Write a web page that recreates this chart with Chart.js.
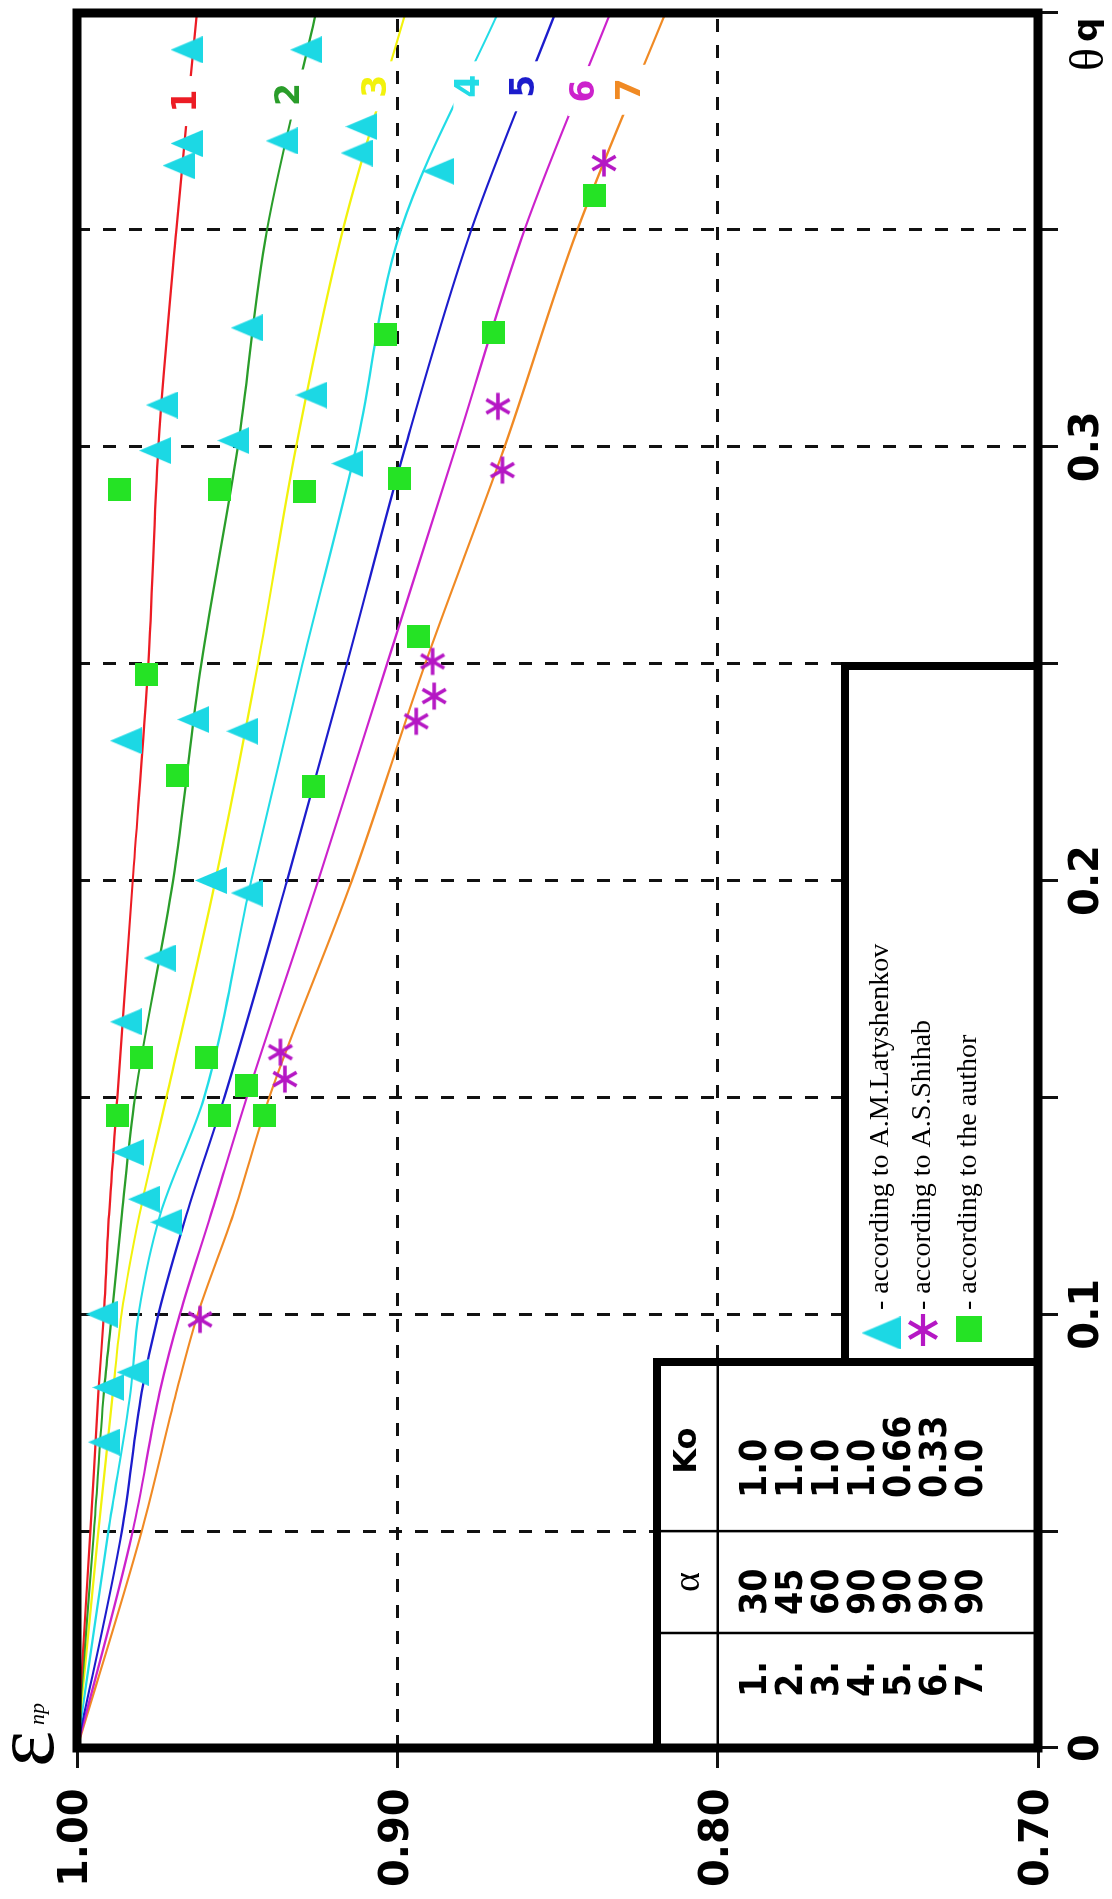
<!DOCTYPE html>
<html>
<head>
<meta charset="utf-8">
<title>Coefficient ε_np versus θq</title>
<script src="https://cdn.jsdelivr.net/npm/chart.js@4.4.1/dist/chart.umd.min.js"></script>
<style>
  html, body { margin: 0; padding: 0; background: #fff; }
  body { width: 1112px; height: 1899px; overflow: hidden; position: relative; }
  /* the plot is laid out landscape and turned a quarter turn anticlockwise */
  #turn { position: absolute; left: 0; top: 0; width: 1899px; height: 1112px;
          transform-origin: 0 0; transform: translateY(1899px) rotate(-90deg); background: #fff; }
  canvas { display: block; }
</style>
</head>
<body>
<div id="turn"><canvas id="chart" width="1899" height="1112"></canvas></div>
<script>
// ---- computed curves: θq nodes and ε_np for each case ----
const thetaNodes = [0, 0.05, 0.082, 0.1, 0.123, 0.15, 0.2, 0.25, 0.3, 0.35, 0.4];
const eps1 = [1.000, 0.9958, 0.9933, 0.9916, 0.9900, 0.9874, 0.9826, 0.9777, 0.9746, 0.9690, 0.9626];
const eps2 = [1.000, 0.9947, 0.9916, 0.9891, 0.9860, 0.9819, 0.9700, 0.9612, 0.9498, 0.9407, 0.9254];
const eps3 = [1.000, 0.9933, 0.9888, 0.9861, 0.9805, 0.9721, 0.9568, 0.9435, 0.9316, 0.9170, 0.8975];
const eps4 = [1.000, 0.9902, 0.9833, 0.9808, 0.9740, 0.9603, 0.9456, 0.9296, 0.9128, 0.8989, 0.8686];
const eps5 = [1.000, 0.9860, 0.9798, 0.9746, 0.9658, 0.9540, 0.9344, 0.9157, 0.8975, 0.8769, 0.8507];
const eps6 = [1.000, 0.9826, 0.9742, 0.9679, 0.9582, 0.9470, 0.9247, 0.9032, 0.8817, 0.8603, 0.8335];
const eps7 = [1.000, 0.9798, 0.9690, 0.9623, 0.9512, 0.9400, 0.9142, 0.8913, 0.8665, 0.8438, 0.8163];
const curveNames = ['1', '2', '3', '4', '5', '6', '7'];
const curveColors = ['#ec1c24', '#2a9d2a', '#f2f20c', '#22dce6', '#1c1ccc', '#cc22cc', '#f08a24'];
// where each curve number sits along its curve
const curveLabelTheta = [0.3797, 0.3812, 0.3831, 0.3831, 0.3831, 0.3820, 0.3823];
const curveLabelEps   = [0.9658, 0.9337, 0.9065, 0.8775, 0.8603, 0.8417, 0.8273];

// ---- case table ----
const caseIds  = ['1.', '2.', '3.', '4.', '5.', '6.', '7.'];
const alphaDeg = ['30', '45', '60', '90', '90', '90', '90'];
const koValues = ['1.0', '1.0', '1.0', '1.0', '0.66', '0.33', '0.0'];

// ---- experimental points ----
const latTheta = [0.3915, 0.3915, 0.3699, 0.3648, 0.3705, 0.3738, 0.3677, 0.3635, 0.3274, 0.3096,
                  0.2991, 0.3014, 0.3119, 0.2961, 0.2322, 0.2371, 0.2344, 0.2000, 0.1971, 0.1821,
                  0.1674, 0.1373, 0.1265, 0.1212, 0.1000, 0.0866, 0.0831, 0.0705];
const latEps   = [0.9658, 0.9285, 0.9658, 0.9683, 0.9361, 0.9112, 0.9127, 0.8872, 0.9470, 0.9735,
                  0.9756, 0.9512, 0.9268, 0.9156, 0.9847, 0.9637, 0.9484, 0.9582, 0.9470, 0.9742,
                  0.9847, 0.9840, 0.9791, 0.9721, 0.9923, 0.9826, 0.9902, 0.9916];
const shihabTheta = [0.3654, 0.3093, 0.2946, 0.2505, 0.2425, 0.2367, 0.1604, 0.1542, 0.0988];
const shihabEps   = [0.8355, 0.8686, 0.8672, 0.8890, 0.8885, 0.8941, 0.9365, 0.9351, 0.9616];
const authorTheta = [0.3579, 0.3259, 0.3263, 0.2901, 0.2901, 0.2897, 0.2927, 0.2562, 0.2475,
                     0.2242, 0.2216, 0.1592, 0.1592, 0.1527, 0.1458, 0.1458, 0.1458];
const authorEps   = [0.8383, 0.9038, 0.8700, 0.9868, 0.9554, 0.9289, 0.8993, 0.8934, 0.9784,
                     0.9686, 0.9261, 0.9798, 0.9596, 0.9470, 0.9874, 0.9554, 0.9414];
const legendTexts = ['- according to A.M.Latyshenkov', '- according to A.S.Shihab', '- according to the author'];

// ---- axis ticks ----
const xTickValues = [0, 0.1, 0.2, 0.3];
const xTickLabels = ['0', '0.1', '0.2', '0.3'];
const yTickValues = [1.0, 0.9, 0.8, 0.7];
const yTickLabels = ['1.00', '0.90', '0.80', '0.70'];

// ---- marker images ----
const TRI_COLOR = '#1cd8e4', STAR_COLOR = '#b517c4', SQ_COLOR = '#25e325';
function makeMark(w, h, paint) {
  const c = document.createElement('canvas');
  c.width = w; c.height = h;
  paint(c.getContext('2d'), w, h);
  return c;
}
const paintTriangle = (g, w, h) => {
  g.fillStyle = TRI_COLOR;
  g.beginPath(); g.moveTo(w / 2, 0); g.lineTo(w, h); g.lineTo(0, h); g.closePath(); g.fill();
};
const paintStar = (r, lw) => (g, w, h) => {
  g.strokeStyle = STAR_COLOR; g.lineWidth = lw;
  [0, 60, 120].forEach(a => {
    const t = a * Math.PI / 180;
    g.beginPath();
    g.moveTo(w / 2 - r * Math.cos(t), h / 2 - r * Math.sin(t));
    g.lineTo(w / 2 + r * Math.cos(t), h / 2 + r * Math.sin(t));
    g.stroke();
  });
};
const triangleMark = makeMark(27, 32, paintTriangle);
const starMark = makeMark(32, 32, paintStar(13.5, 3.6));
const squareMark = makeMark(23, 23, (g, w, h) => { g.fillStyle = SQ_COLOR; g.fillRect(0, 0, w, h); });
// slightly larger keys for the legend box
const triangleKey = makeMark(33, 39, paintTriangle);
const starKey = makeMark(38, 38, paintStar(16, 4.2));
const squareKey = makeMark(26, 26, (g, w, h) => { g.fillStyle = SQ_COLOR; g.fillRect(0, 0, w, h); });

// ---- helpers ----
const pairs = (xs, ys) => xs.map((x, i) => ({ x, y: ys[i] }));
const pickLabel = (values, labels, v) => {
  const i = values.findIndex(t => Math.abs(t - v) < 1e-9);
  return i >= 0 ? labels[i] : '';
};

const curveSets = [eps1, eps2, eps3, eps4, eps5, eps6, eps7].map((eps, i) => ({
  type: 'line',
  label: curveNames[i],
  data: pairs(thetaNodes, eps),
  borderColor: curveColors[i],
  borderWidth: 2.2,
  pointRadius: 0,
  fill: false,
  cubicInterpolationMode: 'monotone',
  order: 2
}));
const pointSets = [
  { type: 'scatter', label: 'A.M.Latyshenkov', data: pairs(latTheta, latEps), pointStyle: triangleMark, pointRadius: 12, order: 1 },
  { type: 'scatter', label: 'A.S.Shihab', data: pairs(shihabTheta, shihabEps), pointStyle: starMark, pointRadius: 12, order: 1 },
  { type: 'scatter', label: 'author', data: pairs(authorTheta, authorEps), pointStyle: squareMark, pointRadius: 12, order: 1 }
];

// ---- layout of the annotation boxes (canvas pixels) ----
const BOX = { legendLeft: 537, legendRight: 1233, legendTop: 845, tableTop: 657, tableCol1: 266 };
const BOLD_SANS = '"DejaVu Sans", "Liberation Sans", sans-serif';

// narrow bold text, as used in the case table
function condensedText(ctx, text, x, y, squeeze) {
  ctx.save();
  ctx.translate(x, y);
  ctx.scale(squeeze, 1);
  ctx.fillText(text, 0, 0);
  ctx.restore();
}

const decor = {
  id: 'decor',
  beforeDatasetsDraw(chart) { chart.$numbersDone = false; },
  beforeDatasetDraw(chart, args) {
    if (chart.$numbersDone || args.meta.type !== 'scatter') return;
    chart.$numbersDone = true;
    const ctx = chart.ctx, xs = chart.scales.x, ys = chart.scales.y;
    ctx.save();
    ctx.font = 'bold 33px ' + BOLD_SANS;
    ctx.textAlign = 'center';
    ctx.textBaseline = 'middle';
    curveNames.forEach((name, i) => {
      const px = xs.getPixelForValue(curveLabelTheta[i]);
      const py = ys.getPixelForValue(curveLabelEps[i]);
      ctx.fillStyle = '#fff';
      ctx.fillRect(px - 25, py - 16, 50, 32);
      ctx.fillStyle = curveColors[i];
      ctx.fillText(name, px, py + 1);
    });
    ctx.restore();
  },
  afterDraw(chart) {
    const ctx = chart.ctx, a = chart.chartArea, xs = chart.scales.x, ys = chart.scales.y;
    ctx.save();
    ctx.strokeStyle = '#000';

    // legend box
    const lL = BOX.legendLeft, lR = BOX.legendRight, lT = BOX.legendTop, lB = a.bottom;
    ctx.fillStyle = '#fff';
    ctx.fillRect(lL, lT, lR - lL, lB - lT);
    ctx.lineWidth = 8;
    ctx.strokeRect(lL, lT, lR - lL, lB - lT);
    const rowsY = [881, 923, 969];
    ctx.drawImage(triangleKey, 566 - 16.5, rowsY[0] - 19.5);
    ctx.drawImage(starKey, 569 - 19, rowsY[1] - 19);
    ctx.drawImage(squareKey, 570 - 13, rowsY[2] - 13);
    ctx.fillStyle = '#000';
    ctx.font = '28px "Liberation Serif", "Times New Roman", serif';
    ctx.textAlign = 'left';
    ctx.textBaseline = 'middle';
    legendTexts.forEach((t, i) => ctx.fillText(t, 589, rowsY[i]));

    // case table
    const tL = a.left, tR = BOX.legendLeft, tT = BOX.tableTop, tB = a.bottom;
    ctx.fillStyle = '#fff';
    ctx.fillRect(tL, tT, tR - tL, tB - tT);
    const colA = BOX.tableCol1, colK = xs.getPixelForValue(0.05), head = ys.getPixelForValue(0.8);
    ctx.lineWidth = 2.5;
    ctx.beginPath();
    ctx.moveTo(colA, tT); ctx.lineTo(colA, tB);
    ctx.moveTo(colK, tT); ctx.lineTo(colK, tB);
    ctx.moveTo(tL, head); ctx.lineTo(tR, head);
    ctx.stroke();
    ctx.lineWidth = 8;
    ctx.strokeRect(tL, tT, tR - tL, tB - tT);
    ctx.fillStyle = '#000';
    ctx.textAlign = 'center';
    ctx.textBaseline = 'middle';
    ctx.font = '38px "Liberation Serif", serif';
    ctx.fillText('α', (colA + colK) / 2, (tT + head) / 2 + 2);
    ctx.font = 'bold 32px ' + BOLD_SANS;
    ctx.fillText('Ko', (colK + tR) / 2 - 4, (tT + head) / 2);
    ctx.textAlign = 'left';
    ctx.textBaseline = 'alphabetic';
    ctx.font = 'bold 38px ' + BOLD_SANS;
    caseIds.forEach((id, i) => {
      const base = 766 + 36 * i;
      condensedText(ctx, id, 202, base, 0.88);
      condensedText(ctx, alphaDeg[i], 284, base, 0.88);
      condensedText(ctx, koValues[i], 401, base, 0.88);
    });

    // plot frame
    ctx.lineWidth = 9;
    ctx.strokeRect(a.left, a.top, a.right - a.left, a.bottom - a.top);

    // axis titles
    ctx.fillStyle = '#000';
    ctx.textAlign = 'left';
    ctx.textBaseline = 'alphabetic';
    ctx.font = '86px "Liberation Serif", serif';
    ctx.fillText('ε', 132, 53);
    ctx.font = 'italic 22px "Liberation Serif", serif';
    ctx.fillText('np', 174, 44);
    ctx.textBaseline = 'middle';
    ctx.font = '48px "Liberation Serif", serif';
    ctx.fillText('θ', 1828, 1090);
    ctx.font = 'bold 34px ' + BOLD_SANS;
    ctx.fillText('q', 1857, 1088);
    ctx.restore();
  }
};

new Chart(document.getElementById('chart'), {
  data: { datasets: [...curveSets, ...pointSets] },
  options: {
    responsive: false,
    animation: false,
    events: [],
    layout: { padding: { left: 12, right: 12, top: 77, bottom: 0 } },
    plugins: { legend: { display: false }, tooltip: { enabled: false } },
    scales: {
      x: {
        type: 'linear', min: 0, max: 0.4,
        afterFit(s) { s.height = 74; },
        ticks: {
          stepSize: 0.05, autoSkip: false, maxRotation: 0, minRotation: 0, padding: 6,
          color: '#000', font: { family: BOLD_SANS, size: 40, weight: 'bold' },
          callback: v => pickLabel(xTickValues, xTickLabels, v)
        },
        grid: { color: '#111', lineWidth: 3, tickLength: 20, tickWidth: 3, tickColor: '#111' },
        border: { display: false, dash: [13, 13] }
      },
      y: {
        type: 'linear', min: 0.7, max: 1.0,
        afterFit(s) { s.width = 139; },
        ticks: {
          stepSize: 0.1, autoSkip: false, crossAlign: 'far', padding: 8,
          color: '#000', font: { family: BOLD_SANS, size: 40, weight: 'bold' },
          callback: v => pickLabel(yTickValues, yTickLabels, v)
        },
        grid: { color: '#111', lineWidth: 3, tickLength: 20, tickWidth: 3, tickColor: '#111' },
        border: { display: false, dash: [13, 13] }
      }
    }
  },
  plugins: [decor]
});
</script>
</body>
</html>
